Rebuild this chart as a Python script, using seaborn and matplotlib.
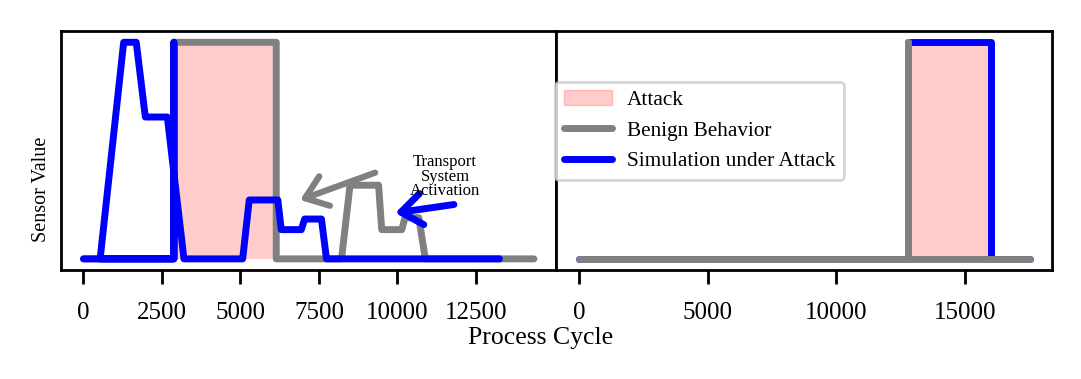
import seaborn as sns
import matplotlib.pyplot as plt
import matplotlib.patches as mpatches
from matplotlib.lines import Line2D

sns.set_style('ticks')
plt.rcParams['font.family'] = ['Liberation Serif', 'DejaVu Serif']
for key in ['text.color', 'axes.labelcolor', 'xtick.color', 'ytick.color', 'axes.edgecolor']:
    plt.rcParams[key] = 'black'

# left panel (sensor with transport system activation)
left_benign_x = [0, 2880, 2880, 6140, 6140, 8220, 8490, 9400, 9500, 10140, 10240, 10680, 10890, 14350]
left_benign_y = [0, 0, 1, 1, 0, 0, 0.34, 0.34, 0.135, 0.135, 0.19, 0.19, 0, 0]
left_sim_x = [0, 2880, 2880, 2880, 530, 1280, 1680, 1970, 2670, 3200, 5070, 5280, 6190, 6300,
              6940, 7045, 7580, 7740, 13250]
left_sim_y = [0, 0, 1, 0, 0, 1, 1, 0.655, 0.655, 0, 0, 0.272, 0.272, 0.135,
              0.135, 0.184, 0.184, 0, 0]
left_attack = (2880, 6140)

# right panel
right_benign_x = [0, 12765, 12765, 12765, 17500]
right_benign_y = [0, 0, 1, 0, 0]
right_sim_x = [0, 12765, 12765, 16010, 16010, 17500]
right_sim_y = [0, 0, 1, 1, 0, 0]
right_attack = (12765, 16010)

pink = (1, 0, 0, 0.2)
gray = '#808080'
blue = '#0000ff'

fig = plt.figure(figsize=(10.81, 3.79), dpi=100)
grid = fig.add_gridspec(1, 2, left=0.0564, right=0.9732, bottom=0.2884, top=0.917, wspace=0)
ax1 = fig.add_subplot(grid[0, 0])
ax2 = fig.add_subplot(grid[0, 1], sharey=ax1)

# left
ax1.fill_between(left_attack, [0, 0], [1, 1], color=pink, lw=0)
sns.lineplot(x=left_benign_x, y=left_benign_y, sort=False, estimator=None, color=gray, lw=5, ax=ax1)
sns.lineplot(x=left_sim_x, y=left_sim_y, sort=False, estimator=None, color=blue, lw=5, ax=ax1)
ax1.annotate('', xy=(6900, 0.272), xytext=(9290, 0.398),
             arrowprops=dict(arrowstyle='->,head_length=0.6,head_width=0.45', color=gray, lw=4.5,
                             mutation_scale=25, shrinkA=0, shrinkB=0))
ax1.annotate('', xy=(9930, 0.212), xytext=(11800, 0.251),
             arrowprops=dict(arrowstyle='->,head_length=0.6,head_width=0.45', color=blue, lw=5,
                             mutation_scale=25, shrinkA=0, shrinkB=0))
ax1.text(11520, 0.38, 'Transport\nSystem\nActivation', ha='center', va='center',
         fontsize=12, linespacing=0.9)

# right
ax2.fill_between(right_attack, [0, 0], [1, 1], color=pink, lw=0)
sns.lineplot(x=right_sim_x, y=right_sim_y, sort=False, estimator=None, color=blue, lw=5, ax=ax2)
sns.lineplot(x=right_benign_x, y=right_benign_y, sort=False, estimator=None, color=gray, lw=5, ax=ax2)

for ax in (ax1, ax2):
    ax.set_yticks([])
    ax.set_xlabel('')
    ax.set_ylabel('')
    ax.tick_params(axis='x', labelsize=18, length=10, width=2, pad=13)
    for s in ax.spines.values():
        s.set_linewidth(2)
ax1.set_xticks([0, 2500, 5000, 7500, 10000, 12500])
ax2.set_xticks([0, 5000, 10000, 15000])

handles = [mpatches.Patch(color=pink, label='Attack'),
           Line2D([], [], color=gray, lw=5, label='Benign Behavior'),
           Line2D([], [], color=blue, lw=5, label='Simulation under Attack')]
leg = fig.legend(handles=handles, loc='upper left', bbox_to_anchor=(555 / 1081, 1 - 81.7 / 379),
                 fontsize=15.3, handlelength=2.3, handletextpad=0.7, borderaxespad=0, borderpad=0.4)
leg.get_frame().set_linewidth(2)

fig.supxlabel('Process Cycle', y=0.108, va='center', fontsize=18.5)
fig.supylabel('Sensor Value', x=0.030, y=0.5, va='center', fontsize=14.5)

fig.savefig('out.png', dpi=100)
